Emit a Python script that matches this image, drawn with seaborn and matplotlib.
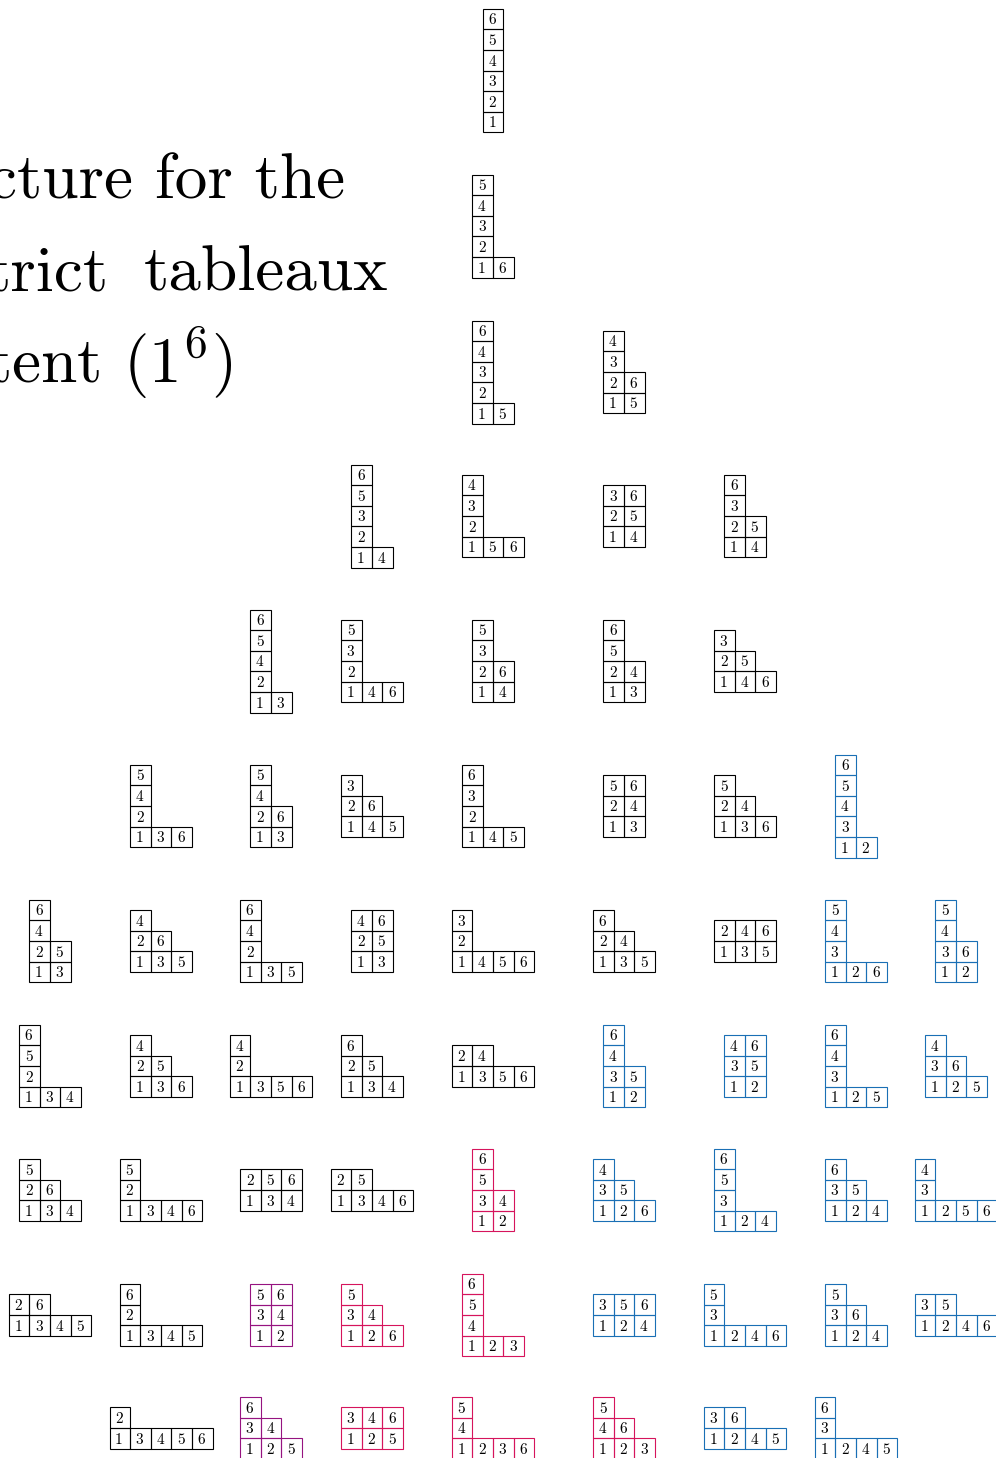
import matplotlib
matplotlib.use("Agg")
import matplotlib.pyplot as plt
import seaborn as sns

sns.set_theme(style="white")
plt.rcParams['font.family'] = ['cmr10', 'DejaVu Serif']
plt.rcParams['mathtext.fontset'] = 'cm'
plt.rcParams['axes.unicode_minus'] = False
plt.rcParams['text.color'] = 'black'

#%% tableaux, level by level: (column, rows from the bottom up, colour key)
level_0 = [(4, [[1], [2], [3], [4], [5], [6]], 'k')]
level_1 = [(4, [[1, 6], [2], [3], [4], [5]], 'k')]
level_2 = [(4, [[1, 5], [2], [3], [4], [6]], 'k'),
           (5, [[1, 5], [2, 6], [3], [4]], 'k')]
level_3 = [(3, [[1, 4], [2], [3], [5], [6]], 'k'),
           (4, [[1, 5, 6], [2], [3], [4]], 'k'),
           (5, [[1, 4], [2, 5], [3, 6]], 'k'),
           (6, [[1, 4], [2, 5], [3], [6]], 'k')]
level_4 = [(2, [[1, 3], [2], [4], [5], [6]], 'k'),
           (3, [[1, 4, 6], [2], [3], [5]], 'k'),
           (4, [[1, 4], [2, 6], [3], [5]], 'k'),
           (5, [[1, 3], [2, 4], [5], [6]], 'k'),
           (6, [[1, 4, 6], [2, 5], [3]], 'k')]
level_5 = [(1, [[1, 3, 6], [2], [4], [5]], 'k'),
           (2, [[1, 3], [2, 6], [4], [5]], 'k'),
           (3, [[1, 4, 5], [2, 6], [3]], 'k'),
           (4, [[1, 4, 5], [2], [3], [6]], 'k'),
           (5, [[1, 3], [2, 4], [5, 6]], 'k'),
           (6, [[1, 3, 6], [2, 4], [5]], 'k'),
           (7, [[1, 2], [3], [4], [5], [6]], 'b')]
level_6 = [(0, [[1, 3], [2, 5], [4], [6]], 'k'),
           (1, [[1, 3, 5], [2, 6], [4]], 'k'),
           (2, [[1, 3, 5], [2], [4], [6]], 'k'),
           (3, [[1, 3], [2, 5], [4, 6]], 'k'),
           (4, [[1, 4, 5, 6], [2], [3]], 'k'),
           (5, [[1, 3, 5], [2, 4], [6]], 'k'),
           (6, [[1, 3, 5], [2, 4, 6]], 'k'),
           (7, [[1, 2, 6], [3], [4], [5]], 'b'),
           (8, [[1, 2], [3, 6], [4], [5]], 'b')]
level_7 = [(0, [[1, 3, 4], [2], [5], [6]], 'k'),
           (1, [[1, 3, 6], [2, 5], [4]], 'k'),
           (2, [[1, 3, 5, 6], [2], [4]], 'k'),
           (3, [[1, 3, 4], [2, 5], [6]], 'k'),
           (4, [[1, 3, 5, 6], [2, 4]], 'k'),
           (5, [[1, 2], [3, 5], [4], [6]], 'b'),
           (6, [[1, 2], [3, 5], [4, 6]], 'b'),
           (7, [[1, 2, 5], [3], [4], [6]], 'b'),
           (8, [[1, 2, 5], [3, 6], [4]], 'b')]
level_8 = [(0, [[1, 3, 4], [2, 6], [5]], 'k'),
           (1, [[1, 3, 4, 6], [2], [5]], 'k'),
           (2, [[1, 3, 4], [2, 5, 6]], 'k'),
           (3, [[1, 3, 4, 6], [2, 5]], 'k'),
           (4, [[1, 2], [3, 4], [5], [6]], 'p'),
           (5, [[1, 2, 6], [3, 5], [4]], 'b'),
           (6, [[1, 2, 4], [3], [5], [6]], 'b'),
           (7, [[1, 2, 4], [3, 5], [6]], 'b'),
           (8, [[1, 2, 5, 6], [3], [4]], 'b')]
level_9 = [(0, [[1, 3, 4, 5], [2, 6]], 'k'),
           (1, [[1, 3, 4, 5], [2], [6]], 'k'),
           (2, [[1, 2], [3, 4], [5, 6]], 'm'),
           (3, [[1, 2, 6], [3, 4], [5]], 'p'),
           (4, [[1, 2, 3], [4], [5], [6]], 'p'),
           (5, [[1, 2, 4], [3, 5, 6]], 'b'),
           (6, [[1, 2, 4, 6], [3], [5]], 'b'),
           (7, [[1, 2, 4], [3, 6], [5]], 'b'),
           (8, [[1, 2, 4, 6], [3, 5]], 'b')]
level_10 = [(1, [[1, 3, 4, 5, 6], [2]], 'k'),
            (2, [[1, 2, 5], [3, 4], [6]], 'm'),
            (3, [[1, 2, 5], [3, 4, 6]], 'p'),
            (4, [[1, 2, 3, 6], [4], [5]], 'p'),
            (5, [[1, 2, 3], [4, 6], [5]], 'p'),
            (6, [[1, 2, 4, 5], [3, 6]], 'b'),
            (7, [[1, 2, 4, 5], [3], [6]], 'b')]

levels = [level_0, level_1, level_2, level_3, level_4, level_5,
          level_6, level_7, level_8, level_9, level_10]

title_lines = ["cture for the", "trict", "tableaux", r"tent $(1^6)$"]

#%% layout (pixels)
level_y = [70.5, 226, 372, 516, 661, 806, 941, 1066, 1190, 1315, 1428]
col_x = [50, 161, 271, 372, 493, 624, 745, 856, 956]
cell = 20.6
colours = {'k': '#000000', 'b': '#1a6fb5', 'p': '#d6145c', 'm': '#961380'}

fig = plt.figure(figsize=(9.96, 14.58), dpi=100)
ax = fig.add_axes([0, 0, 1, 1])
ax.set_xlim(0, 996)
ax.set_ylim(1458, 0)
ax.axis("off")

for lev, level in enumerate(levels):
    cy = level_y[lev]
    for col, rows, ck in level:
        cx = col_x[col]
        nrows = len(rows)
        ncols = max(len(r) for r in rows)
        left = cx - ncols * cell / 2
        top = cy - nrows * cell / 2
        for i, row in enumerate(rows):
            row_top = top + (nrows - 1 - i) * cell
            lefts = [left + j * cell for j in range(len(row))]
            ax.bar(lefts, cell, bottom=row_top, width=cell, align="edge",
                   fill=False, edgecolor=colours[ck], linewidth=0.8)
            for j, v in enumerate(row):
                ax.text(lefts[j] + cell / 2 - 0.8, row_top + cell * 0.76, str(v),
                        ha="center", va="baseline", fontsize=11, color="black")

# title, cut by the left edge as in the original
ax.text(345, 198, title_lines[0], ha="right", va="baseline", fontsize=47, color="black")
ax.text(109, 290, title_lines[1], ha="right", va="baseline", fontsize=47, color="black")
ax.text(388, 290, title_lines[2], ha="right", va="baseline", fontsize=47, color="black")
ax.text(233, 383, title_lines[3], ha="right", va="baseline", fontsize=47, color="black")

plt.savefig("out.png", dpi=100)
